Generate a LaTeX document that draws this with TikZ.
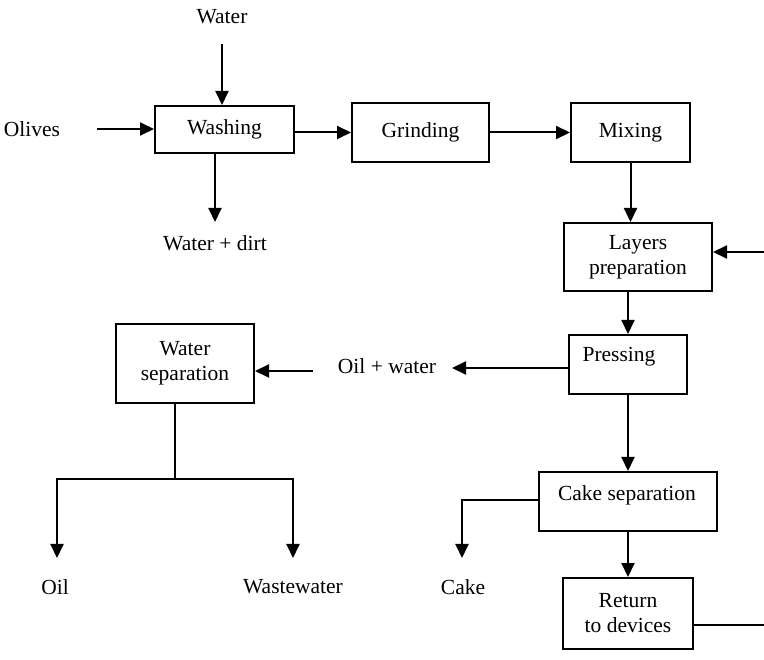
\documentclass[tikz,border=0pt]{standalone}
\usepackage{fontspec}
\setmainfont{Liberation Serif}
\usetikzlibrary{arrows.meta}
\begin{document}
\begin{tikzpicture}[x=1pt,y=-1pt,
  every node/.style={font=\fontsize{21.5}{25}\selectfont, inner sep=0pt},
  box/.style={draw, line width=2pt},
  flow/.style={line width=2pt, -{Triangle[length=14pt,width=13pt]}},
  link/.style={line width=2pt}]
\useasboundingbox (0,0) rectangle (764,660);

% process boxes
\node[box, minimum width=139pt, minimum height=47pt] (wash) at (224.5,129.5) {Washing};
\node[box, minimum width=137pt, minimum height=59pt] (grind) at (420.5,132.5) {Grinding};
\node[box, minimum width=119pt, minimum height=59pt] (mix) at (630.5,132.5) {Mixing};
\node[box, minimum width=148pt, minimum height=68pt, align=center] (layer) at (638,257) {Layers\\preparation};
\node[box, minimum width=118pt, minimum height=59pt] (press) at (628,364.5) {};
\node (presstxt) at (619,357) {Pressing};
\node[box, minimum width=178pt, minimum height=59pt] (cake) at (628,501.5) {};
\node (caketxt) at (627,495) {Cake separation};
\node[box, minimum width=130pt, minimum height=71pt, align=center] (ret) at (628,613.5) {Return\\to devices};
\node[box, minimum width=138pt, minimum height=79pt, align=center] (wsep) at (185,363.5) {Water\\separation};

% stream labels
\node (water) at (222,17) {Water};
\node (olives) at (32,129) {Olives};
\node (dirt) at (215,243) {Water + dirt};
\node (oilw) at (387,366) {Oil + water};
\node (oil) at (55,587) {Oil};
\node (waste) at (293,587) {Wastewater};
\node (caket) at (463,587) {Cake};

% free ends of connectors
\coordinate (wtop) at (222,44);
\coordinate (otail) at (97,129);
\coordinate (dtip) at (215,222);
\coordinate (rin) at (764,252);
\coordinate (owtip) at (452,368);
\coordinate (owtail) at (313,371);
\coordinate (cturn) at (462,500);
\coordinate (ctip) at (462,558);
\coordinate (rout) at (764,625);
\coordinate (split) at (175,479);
\coordinate (oiltip) at (57,558);
\coordinate (wastetip) at (293,558);

% main line
\draw[flow] (wtop) -- (wtop |- wash.north);
\draw[flow] (otail) -- (otail -| wash.west);
\draw[flow] (dtip |- wash.south) -- (dtip);
\draw[flow] (wash.east |- grind.west) -- (grind.west);
\draw[flow] (grind.east) -- (mix.west);
\draw[flow] (mix.south) -- (mix.south |- layer.north);
\draw[flow] (rin) -- (rin -| layer.east);
\draw[flow] (layer.south -| press.north) -- (press.north);
\draw[flow] (owtip -| press.west) -- (owtip);
\draw[flow] (press.south) -- (cake.north);
\draw[flow] (cake.west |- cturn) -- (cturn) -- (ctip);
\draw[flow] (cake.south) -- (ret.north);
\draw[link] (rout -| ret.east) -- (rout);

% oil / water separation
\draw[flow] (owtail) -- (owtail -| wsep.east);
\draw[link] (split |- wsep.south) -- (split);
\draw[flow] (split) -- (split -| oiltip) -- (oiltip);
\draw[flow] (split) -- (split -| wastetip) -- (wastetip);
\end{tikzpicture}
\end{document}
